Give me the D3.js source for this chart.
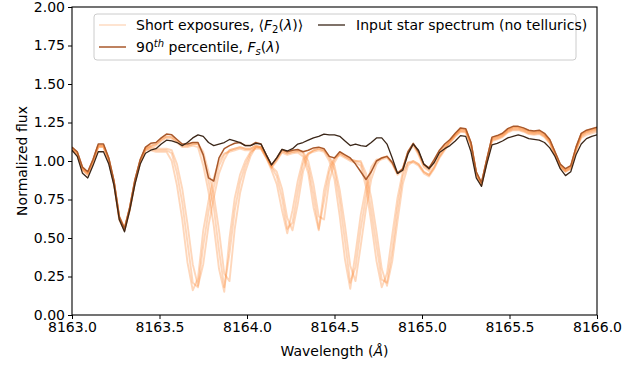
<!DOCTYPE html>
<html>
<head>
<meta charset="utf-8">
<script src="https://cdn.jsdelivr.net/npm/d3@7"></script>
<style>
  body { margin: 0; background: #fff; }
  text { font-family: "DejaVu Sans", sans-serif; fill: #000; }
</style>
</head>
<body>
<div id="chart"></div>
<script>
// wavelength sampling (Angstrom)
var wavelength = [
  8163.00,8163.03,8163.06,8163.09,8163.12,8163.15,8163.18,8163.21,8163.24,8163.27,
  8163.30,8163.33,8163.36,8163.39,8163.42,8163.45,8163.48,8163.51,8163.54,8163.57,
  8163.60,8163.63,8163.66,8163.69,8163.72,8163.75,8163.78,8163.81,8163.84,8163.87,
  8163.90,8163.93,8163.96,8163.99,8164.02,8164.05,8164.08,8164.11,8164.14,8164.17,
  8164.20,8164.23,8164.26,8164.29,8164.32,8164.35,8164.38,8164.41,8164.44,8164.47,
  8164.50,8164.53,8164.56,8164.59,8164.62,8164.65,8164.68,8164.71,8164.74,8164.77,
  8164.80,8164.83,8164.86,8164.89,8164.92,8164.95,8164.98,8165.01,8165.04,8165.07,
  8165.10,8165.13,8165.16,8165.19,8165.22,8165.25,8165.28,8165.31,8165.34,8165.37,
  8165.40,8165.43,8165.46,8165.49,8165.52,8165.55,8165.58,8165.61,8165.64,8165.67,
  8165.70,8165.73,8165.76,8165.79,8165.82,8165.85,8165.88,8165.91,8165.94,8165.97,
  8166.00];

// input star spectrum (no tellurics)
var starFlux = [
  1.07,1.03,0.92,0.89,0.97,1.06,1.06,0.98,0.84,0.62,
  0.54,0.68,0.85,0.98,1.05,1.07,1.08,1.11,1.135,1.13,
  1.12,1.10,1.12,1.15,1.17,1.16,1.12,1.10,1.11,1.12,
  1.14,1.13,1.12,1.10,1.10,1.115,1.11,1.04,0.975,1.02,
  1.075,1.065,1.08,1.11,1.12,1.135,1.15,1.16,1.175,1.17,
  1.17,1.16,1.13,1.10,1.11,1.10,1.095,1.12,1.15,1.15,
  1.11,1.02,0.92,0.94,1.045,1.11,1.07,0.98,0.95,0.99,
  1.055,1.08,1.10,1.13,1.165,1.16,1.06,0.89,0.835,0.98,
  1.105,1.115,1.13,1.15,1.16,1.17,1.16,1.145,1.14,1.135,
  1.12,1.085,1.03,0.95,0.905,0.93,1.04,1.11,1.145,1.16,
  1.17];

// 90th percentile, F_s
var pctFlux = [
  1.09,1.06,0.96,0.93,1.01,1.11,1.11,1.02,0.87,0.64,
  0.56,0.70,0.88,1.01,1.09,1.115,1.12,1.15,1.175,1.17,
  1.14,1.11,1.11,1.12,1.12,1.04,0.89,0.87,1.02,1.08,
  1.10,1.115,1.12,1.10,1.10,1.12,1.11,1.04,0.975,1.02,
  1.075,1.06,1.07,1.075,1.06,1.07,1.085,1.09,1.08,1.03,
  1.02,1.06,1.04,1.02,0.98,0.93,0.88,0.93,1.00,1.02,
  1.03,0.99,0.92,0.95,1.06,1.115,1.06,0.98,0.955,1.01,
  1.07,1.11,1.14,1.18,1.215,1.21,1.12,0.93,0.86,1.01,
  1.155,1.165,1.18,1.21,1.225,1.225,1.215,1.20,1.195,1.20,
  1.18,1.14,1.06,0.98,0.95,0.97,1.09,1.18,1.20,1.21,
  1.22];

// short exposures, first telluric position
var shortA1 = [
  1.08,1.05,0.95,0.92,1.00,1.10,1.10,1.01,0.86,0.63,
  0.56,0.69,0.87,1.00,1.08,1.08,1.07,1.07,1.07,1.05,
  0.92,0.73,0.47,0.21,0.18,0.45,0.67,0.83,0.97,1.04,
  1.07,1.08,1.09,1.08,1.08,1.10,1.09,1.03,0.96,0.90,
  0.76,0.56,0.60,0.80,0.98,1.05,1.07,1.08,1.07,1.02,
  0.94,0.74,0.48,0.21,0.31,0.56,0.77,0.93,1.00,1.02,
  1.03,0.99,0.92,0.95,1.06,1.11,1.05,0.97,0.945,1.00,
  1.06,1.10,1.13,1.17,1.205,1.20,1.11,0.92,0.85,1.00,
  1.145,1.155,1.17,1.20,1.215,1.215,1.205,1.19,1.185,1.19,
  1.17,1.13,1.05,0.97,0.94,0.96,1.08,1.17,1.19,1.20,
  1.21];
var shortA2 = [
  1.07,1.04,0.94,0.91,0.99,1.09,1.09,1.00,0.85,0.62,
  0.55,0.68,0.86,0.99,1.07,1.07,1.06,1.06,1.06,1.00,
  0.84,0.62,0.34,0.16,0.24,0.55,0.74,0.89,1.00,1.05,
  1.06,1.07,1.08,1.07,1.07,1.09,1.08,1.02,0.94,0.85,
  0.68,0.53,0.68,0.87,1.01,1.05,1.06,1.07,1.06,1.00,
  0.88,0.64,0.36,0.17,0.40,0.65,0.83,0.96,1.01,1.01,
  1.02,0.98,0.91,0.94,1.05,1.10,1.04,0.96,0.935,0.99,
  1.05,1.09,1.12,1.16,1.19,1.185,1.10,0.91,0.84,0.99,
  1.13,1.14,1.155,1.185,1.20,1.20,1.19,1.175,1.17,1.175,
  1.155,1.115,1.04,0.96,0.93,0.95,1.065,1.15,1.17,1.18,
  1.19];
var shortA3 = [
  1.085,1.055,0.955,0.925,1.005,1.10,1.10,1.015,0.865,0.64,
  0.565,0.695,0.875,1.005,1.085,1.09,1.08,1.08,1.08,1.07,
  0.98,0.82,0.59,0.33,0.19,0.33,0.58,0.76,0.92,1.01,
  1.07,1.08,1.09,1.08,1.08,1.10,1.09,1.035,0.965,0.93,
  0.82,0.63,0.55,0.72,0.93,1.04,1.07,1.08,1.07,1.03,
  0.97,0.81,0.58,0.32,0.22,0.45,0.69,0.88,0.98,1.02,
  1.03,0.99,0.92,0.95,1.06,1.11,1.055,0.975,0.95,1.005,
  1.065,1.105,1.135,1.175,1.21,1.205,1.115,0.925,0.855,1.005,
  1.15,1.16,1.175,1.205,1.22,1.22,1.21,1.195,1.19,1.195,
  1.175,1.135,1.055,0.975,0.945,0.965,1.085,1.175,1.195,1.205,
  1.215];

// short exposures, second telluric position
var shortB1 = [
  1.08,1.05,0.95,0.92,1.00,1.10,1.10,1.01,0.86,0.63,
  0.56,0.69,0.87,1.00,1.08,1.10,1.11,1.14,1.16,1.155,
  1.13,1.10,1.10,1.11,1.11,1.03,0.87,0.70,0.42,0.18,
  0.40,0.68,0.86,0.97,1.05,1.09,1.09,1.03,0.965,1.01,
  1.065,1.05,1.06,1.065,1.05,0.96,0.78,0.56,0.74,0.93,
  1.01,1.05,1.03,1.01,1.00,0.99,0.88,0.68,0.45,0.23,
  0.21,0.42,0.69,0.90,0.99,1.00,0.98,0.93,0.91,0.96,
  1.03,1.08,1.13,1.17,1.20,1.195,1.11,0.92,0.85,1.00,
  1.14,1.15,1.165,1.195,1.21,1.21,1.20,1.185,1.18,1.185,
  1.165,1.125,1.045,0.965,0.935,0.955,1.075,1.165,1.185,1.195,
  1.205];
var shortB2 = [
  1.07,1.04,0.94,0.91,0.99,1.09,1.09,1.00,0.85,0.62,
  0.55,0.68,0.86,0.99,1.07,1.09,1.10,1.13,1.15,1.145,
  1.12,1.09,1.09,1.10,1.09,0.97,0.80,0.58,0.30,0.15,
  0.50,0.76,0.91,1.00,1.06,1.08,1.08,1.02,0.955,1.00,
  1.055,1.04,1.05,1.055,1.03,0.92,0.70,0.55,0.81,0.96,
  1.02,1.04,1.02,1.00,0.99,0.97,0.83,0.60,0.35,0.18,
  0.27,0.52,0.76,0.93,0.99,0.99,0.97,0.92,0.90,0.95,
  1.02,1.07,1.12,1.16,1.195,1.19,1.105,0.915,0.845,0.995,
  1.135,1.145,1.16,1.19,1.205,1.205,1.195,1.18,1.175,1.18,
  1.16,1.12,1.04,0.96,0.93,0.95,1.07,1.16,1.18,1.19,
  1.20];
var shortB3 = [
  1.085,1.055,0.955,0.925,1.005,1.10,1.10,1.015,0.865,0.64,
  0.565,0.695,0.875,1.005,1.085,1.10,1.11,1.14,1.16,1.155,
  1.13,1.10,1.10,1.11,1.11,1.06,0.93,0.78,0.55,0.27,
  0.22,0.56,0.79,0.93,1.03,1.09,1.09,1.03,0.965,1.01,
  1.065,1.05,1.06,1.065,1.06,1.00,0.85,0.64,0.62,0.87,
  0.99,1.05,1.03,1.01,1.00,1.00,0.92,0.76,0.54,0.30,
  0.19,0.35,0.61,0.85,0.97,1.00,0.98,0.93,0.91,0.96,
  1.03,1.08,1.135,1.175,1.21,1.205,1.115,0.925,0.855,1.005,
  1.15,1.16,1.175,1.205,1.22,1.22,1.21,1.195,1.19,1.195,
  1.175,1.135,1.055,0.975,0.945,0.965,1.085,1.175,1.195,1.205,
  1.215];

var shortExposures = [shortA1, shortB1, shortA2, shortB2, shortA3, shortB3];

var xTicks = [8163.0, 8163.5, 8164.0, 8164.5, 8165.0, 8165.5, 8166.0];
var yTicks = [0, 0.25, 0.5, 0.75, 1.0, 1.25, 1.5, 1.75, 2.0];

var colShort = "#fd8d3c",
    colPct = "#a9592b",
    colStar = "#3a2618";

// set the dimensions and margins of the graph
var margin = {top: 7, right: 46, bottom: 50, left: 72},
    width = 643 - margin.left - margin.right,
    height = 365 - margin.top - margin.bottom;

var svg = d3.select("#chart")
  .append("svg")
    .attr("width", 643)
    .attr("height", 365)
  .append("g")
    .attr("transform", "translate(" + margin.left + "," + margin.top + ")");

var x = d3.scaleLinear().domain([8163, 8166]).range([0, width]);
var y = d3.scaleLinear().domain([0, 2]).range([height, 0]);

// clip to the axes box
svg.append("clipPath").attr("id", "clip")
  .append("rect").attr("width", width).attr("height", height);

function lineFor(arr) {
  return d3.line()
    .defined(function(d, i) { return arr[i] != null; })
    .x(function(d, i) { return x(wavelength[i]); })
    .y(function(d, i) { return y(arr[i]); })(wavelength);
}

var plot = svg.append("g").attr("clip-path", "url(#clip)");

// short exposures
plot.selectAll(".short")
  .data(shortExposures)
  .enter()
  .append("path")
    .attr("class", "short")
    .attr("d", function(d) { return lineFor(d); })
    .attr("fill", "none")
    .attr("stroke", colShort)
    .attr("stroke-opacity", 0.35)
    .attr("stroke-width", 1.9)
    .attr("stroke-linejoin", "round");

// 90th percentile
plot.append("path")
  .attr("d", lineFor(pctFlux))
  .attr("fill", "none")
  .attr("stroke", colPct)
  .attr("stroke-width", 1.5)
  .attr("stroke-linejoin", "round");

// input star
plot.append("path")
  .attr("d", lineFor(starFlux))
  .attr("fill", "none")
  .attr("stroke", colStar)
  .attr("stroke-width", 1.3)
  .attr("stroke-linejoin", "round");

// axes
var xAxis = svg.append("g")
  .attr("transform", "translate(0," + height + ")")
  .call(d3.axisBottom(x).tickValues(xTicks).tickFormat(d3.format(".1f")).tickSize(4).tickPadding(3).tickSizeOuter(0));
var yAxis = svg.append("g")
  .call(d3.axisLeft(y).tickValues(yTicks).tickFormat(d3.format(".2f")).tickSize(4).tickPadding(3).tickSizeOuter(0));

[xAxis, yAxis].forEach(function(a) {
  a.select(".domain").remove();
  a.selectAll("line").attr("stroke", "#000").attr("stroke-width", 1);
  a.selectAll("text").style("font-size", "14px").style("font-family", "DejaVu Sans").attr("fill", "#000");
});

// frame
svg.append("rect")
  .attr("width", width).attr("height", height)
  .attr("fill", "none").attr("stroke", "#000").attr("stroke-width", 1.1);

// axis labels
var xl = svg.append("text")
  .attr("x", width / 2).attr("y", height + 41)
  .attr("text-anchor", "middle")
  .style("font-size", "14px");
xl.append("tspan").text("Wavelength (");
xl.append("tspan").style("font-style", "italic").text("Å");
xl.append("tspan").text(")");

svg.append("text")
  .attr("transform", "translate(" + (-45) + "," + (height / 2) + ") rotate(-90)")
  .attr("text-anchor", "middle")
  .style("font-size", "14px")
  .text("Normalized flux");

// legend
var key = svg.append("g").attr("transform", "translate(" + (94 - margin.left) + "," + (14 - margin.top) + ")");
key.append("rect")
  .attr("width", 482).attr("height", 46)
  .attr("rx", 3)
  .attr("fill", "#fff").attr("fill-opacity", 0.8)
  .attr("stroke", "#cccccc").attr("stroke-width", 1);

var rows = [
  {x: 5, y: 11, color: colShort, op: 0.25, w: 1.9},
  {x: 5, y: 33, color: colPct, op: 1, w: 1.5},
  {x: 224, y: 11, color: colStar, op: 1, w: 1.3}
];
key.selectAll(".kline")
  .data(rows)
  .enter()
  .append("line")
    .attr("x1", function(d) { return d.x; })
    .attr("x2", function(d) { return d.x + 27; })
    .attr("y1", function(d) { return d.y; })
    .attr("y2", function(d) { return d.y; })
    .attr("stroke", function(d) { return d.color; })
    .attr("stroke-opacity", function(d) { return d.op; })
    .attr("stroke-width", function(d) { return d.w; });

var t1 = key.append("text").attr("x", 42).attr("y", 16).style("font-size", "14px");
t1.append("tspan").text("Short exposures, \u27e8");
t1.append("tspan").style("font-style", "italic").text("F");
t1.append("tspan").attr("dy", 3).style("font-size", "10px").text("2");
t1.append("tspan").attr("dy", -3).text("(");
t1.append("tspan").style("font-style", "italic").text("\u03bb");
t1.append("tspan").text(")\u27e9");

var t2 = key.append("text").attr("x", 42).attr("y", 38).style("font-size", "14px");
t2.append("tspan").text("90");
t2.append("tspan").attr("dy", -5).style("font-size", "10px").style("font-style", "italic").text("th");
t2.append("tspan").attr("dy", 5).text(" percentile, ");
t2.append("tspan").style("font-style", "italic").text("F");
t2.append("tspan").attr("dy", 3).style("font-size", "10px").style("font-style", "italic").text("s");
t2.append("tspan").attr("dy", -3).text("(");
t2.append("tspan").style("font-style", "italic").text("\u03bb");
t2.append("tspan").text(")");

key.append("text").attr("x", 262).attr("y", 16).style("font-size", "14px")
  .text("Input star spectrum (no tellurics)");
</script>
</body>
</html>
